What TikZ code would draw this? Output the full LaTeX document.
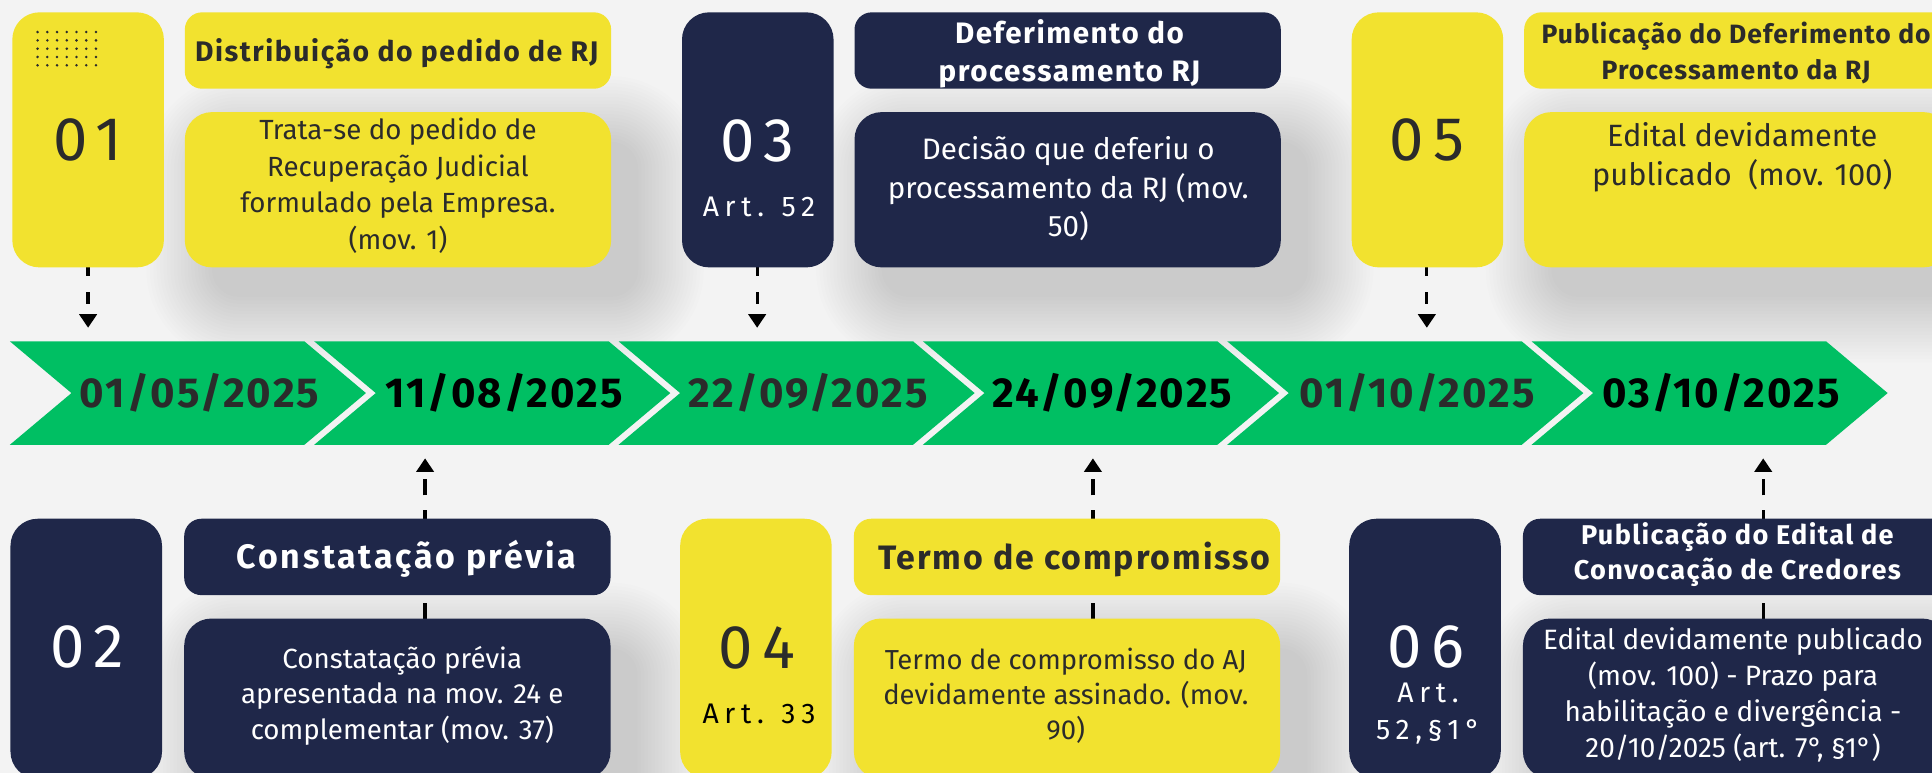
\documentclass[tikz,border=0pt]{standalone}
\usepackage{fontspec}
\setmainfont{Fira Sans}
\newfontfamily\spacedfont[LetterSpace=15]{Fira Sans}
\newfontfamily\artfont[LetterSpace=20]{Fira Sans}
\usetikzlibrary{arrows.meta,calc}
\definecolor{bgc}{HTML}{F3F3F3}
\definecolor{navy}{HTML}{1F2749}
\definecolor{yel}{HTML}{F2E22F}
\definecolor{grn}{HTML}{00BF63}
\definecolor{ink}{HTML}{2B2B2B}
\pgfdeclarelayer{back}
\pgfdeclarelayer{shade}
\pgfdeclarelayer{mid}
\pgfsetlayers{back,shade,mid,main}
\tikzset{
  card/.style={inner sep=0pt, outer sep=0pt, anchor=north west, minimum width=#1},
  numcard/.style={card=123pt, rounded corners=22pt},
  titlecard/.style={card=346pt, rounded corners=14pt, minimum height=62pt},
  desccard/.style={card=346pt, rounded corners=22pt},
  numtext/.style={font=\spacedfont\fontsize{50}{50}\selectfont, inner sep=0pt},
  arttext/.style={font=\artfont\fontsize{23}{23}\selectfont, inner sep=0pt, anchor=base},
  txt/.style={inner sep=0pt, align=center, anchor=north},
  onetitle/.style={inner sep=0pt, anchor=base},
  datetext/.style={font=\bfseries\fontsize{34}{34}\selectfont\addfontfeature{LetterSpace=5}, inner sep=0pt},
  arr/.style={line width=2.6pt, -{Triangle[length=11pt,width=14pt]}, black},
  shadelayer/.style={fill=black, fill opacity=0.0085},
}
\newcommand\softshadow[1]{%
  \begin{pgfonlayer}{shade}
  \foreach \k in {0,...,19}{
    \fill[shadelayer, rounded corners={22pt+2.8pt*\k}]
      ($(#1.north west)+(22-2.8*\k,24-2.8*\k)$) rectangle ($(#1.south east)+(22+2.8*\k,24+2.8*\k)$);}
  \end{pgfonlayer}}
\begin{document}
\begin{tikzpicture}[x=1pt,y=-1pt]
\useasboundingbox (0,0) rectangle (1568,627);
\begin{pgfonlayer}{back}
\fill[bgc] (0,0) rectangle (1568,627);
\end{pgfonlayer}

% timeline
\foreach \i in {0,...,5}{
  \pgfmathsetmacro\xl{8+247*\i}
  \fill[grn] ({\xl},277) -- ({\xl+239},277) -- ({\xl+289},319) -- ({\xl+239},361) -- ({\xl},361) -- ({\xl+50},319) -- cycle;
}
\node[datetext, text=ink]   (dt1) at (162,319) {01/05/2025};
\node[datetext, text=black] (dt2) at (409,319) {11/08/2025};
\node[datetext, text=ink]   (dt3) at (656,319) {22/09/2025};
\node[datetext, text=black] (dt4) at (903,319) {24/09/2025};
\node[datetext, text=ink]   (dt5) at (1150,319) {01/10/2025};
\node[datetext, text=black] (dt6) at (1397,319) {03/10/2025};

% ---------- top row ----------
\node[numcard, fill=yel, minimum height=207pt] (n1) at (10,10) {};
\foreach \i in {0,...,6}{\foreach \j in {0,...,4}{
  \fill[ink] (30.5+7.9*\i, 26+6.75*\j) circle[radius=1.15pt];}}
\node[numtext, text=ink] (n1t) at (71.5,113.5) {01};
\node[titlecard, fill=yel] (t1) at (150,10) {};
\node[onetitle, text=ink, font=\bfseries\fontsize{23}{23}\selectfont\addfontfeature{LetterSpace=5.5}] (t1t) at (322,50) {Distribuição do pedido de RJ};
\node[desccard, fill=yel, minimum height=126pt] (d1) at (150,91) {};
\softshadow{d1}
\node[txt, text=ink, font=\fontsize{22.5}{29.7}\selectfont] (d1t) at (323,92.2)
  {\strut Trata-se do pedido de\\Recuperação Judicial\\formulado pela Empresa.\\(mov. 1)};

\node[numcard, fill=navy, minimum height=207pt] (n3) at (553.5,10) {};
\node[numtext, text=white] (n3t) at (614.5,114) {03};
\node[arttext, text=white] (n3a) at (616,176) {Art. 52};
\node[titlecard, fill=navy] (t3) at (693.5,10) {};
\node[txt, text=white, font=\bfseries\fontsize{24}{31}\selectfont\addfontfeature{LetterSpace=5}] (t3t) at (868,13.3)
  {\strut Deferimento do\\processamento RJ};
\node[desccard, fill=navy, minimum height=126pt] (d3) at (693.5,91) {};
\softshadow{d3}
\node[txt, text=white, font=\fontsize{24}{31.5}\selectfont] (d3t) at (867,107)
  {\strut Decisão que deferiu o\\processamento da RJ (mov.\\50)};

\node[numcard, fill=yel, minimum height=207pt] (n5) at (1097,10) {};
\node[numtext, text=ink] (n5t) at (1158,113.5) {05};
\node[titlecard, fill=yel] (t5) at (1237,10) {};
\node[txt, text=ink, font=\bfseries\fontsize{21.5}{29}\selectfont\addfontfeature{LetterSpace=4}] (t5t) at (1409,14.7)
  {\strut Publicação do Deferimento do\\Processamento da RJ};
\node[desccard, fill=yel, minimum height=126pt] (d5) at (1237,91) {};
\softshadow{d5}
\node[txt, text=ink, font=\fontsize{25}{31}\selectfont] (d5t) at (1414,97.3)
  {\strut Edital devidamente\\publicado\ \ (mov. 100)};

% ---------- bottom row ----------
\node[numcard, fill=navy, minimum height=211pt] (n2) at (8.5,421) {};
\node[numtext, text=white] (n2t) at (70.75,525) {02};
\node[titlecard, fill=navy] (t2) at (149.5,421) {};
\node[onetitle, text=white, font=\bfseries\fontsize{27.5}{27.5}\selectfont\addfontfeature{LetterSpace=8}] (t2t) at (330,461) {Constatação prévia};
\node[desccard, fill=navy, minimum height=130pt] (d2) at (149.5,502) {};
\softshadow{d2}
\node[txt, text=white, font=\fontsize{22.5}{29}\selectfont] (d2t) at (326.5,521.7)
  {\strut Constatação prévia\\apresentada na mov. 24 e\\complementar (mov. 37)};

\node[numcard, fill=yel, minimum height=211pt] (n4) at (552,421) {};
\node[numtext, text=ink] (n4t) at (614.25,525.5) {04};
\node[arttext, text=black] (n4a) at (616,587) {Art. 33};
\node[titlecard, fill=yel] (t4) at (693,421) {};
\node[onetitle, text=ink, font=\bfseries\fontsize{27.5}{27.5}\selectfont\addfontfeature{LetterSpace=5.8}] (t4t) at (872,462) {Termo de compromisso};
\node[desccard, fill=yel, minimum height=130pt] (d4) at (693,502) {};
\softshadow{d4}
\node[txt, text=ink, font=\fontsize{22.3}{28.5}\selectfont] (d4t) at (865,523)
  {\strut Termo de compromisso do AJ\\devidamente assinado. (mov.\\90)};

\node[numcard, fill=navy, minimum height=211pt] (n6) at (1095,421) {};
\node[numtext, text=white] (n6t) at (1157.25,525) {06};
\node[arttext, text=white] (n6a) at (1159,570) {Art.};
\node[arttext, text=white] (n6b) at (1159,600) {52,§1°};
\node[titlecard, fill=navy] (t6) at (1236,421) {};
\node[txt, text=white, font=\bfseries\fontsize{22}{28}\selectfont\addfontfeature{LetterSpace=5}] (t6t) at (1410,422.4)
  {\strut Publicação do Edital de\\Convocação de Credores};
\node[desccard, fill=navy, minimum height=130pt] (d6) at (1236,502) {};
\softshadow{d6}
\node[txt, text=white, font=\fontsize{22.7}{29.3}\selectfont] (d6t) at (1406.5,506.5)
  {\strut Edital devidamente publicado\\(mov. 100) - Prazo para\\habilitação e divergência -\\20/10/2025 (art. 7°, §1°)};

% ---------- connectors ----------
\coordinate (a1) at (71.5,266);
\coordinate (a3) at (614.5,266);
\coordinate (a5) at (1158,266);
\coordinate (a2) at (345,372);
\coordinate (a4) at (887,372);
\coordinate (a6) at (1431,372);
\begin{pgfonlayer}{mid}
\foreach \n/\a in {n1/a1,n3/a3,n5/a5}{
  \draw[arr, dash pattern=on 7pt off 13pt on 10pt off 8pt] (\n.south -| \a) -- (\a);}
\foreach \d/\a in {d2/a2,d4/a4,d6/a6}{
  \draw[arr, dash pattern=on 13pt off 68pt on 7pt off 12pt on 13pt off 20pt] (\d.north -| \a) -- (\a);}
\end{pgfonlayer}
\end{tikzpicture}
\end{document}
